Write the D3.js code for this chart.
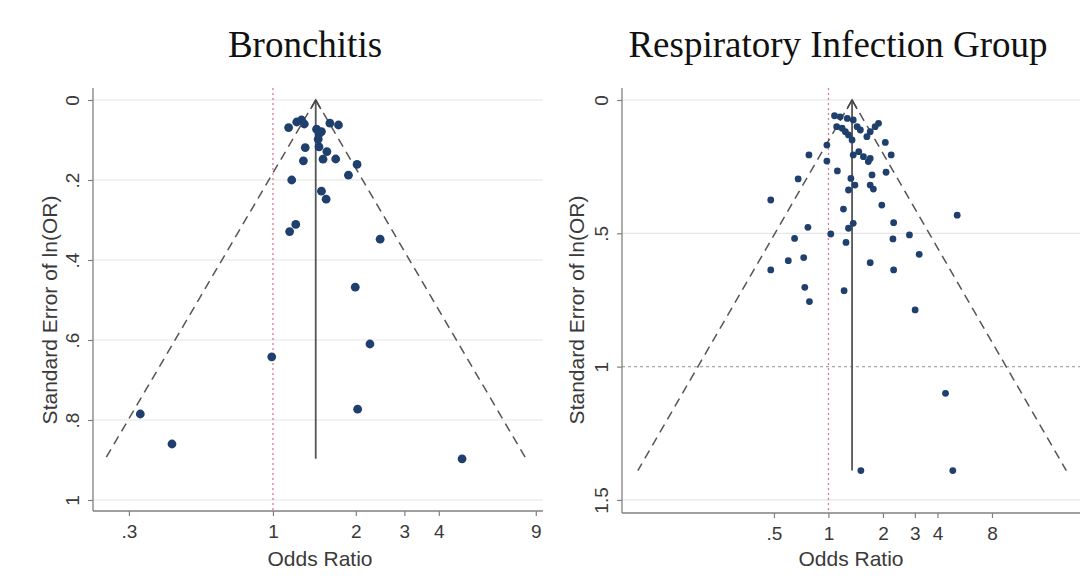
<!DOCTYPE html>
<html>
<head>
<meta charset="utf-8">
<script src="https://cdn.jsdelivr.net/npm/d3@7"></script>
<style>
  html, body { margin: 0; padding: 0; background: #fff; }
  svg { display: block; }
</style>
</head>
<body>
<svg id="chart" width="1088" height="587"></svg>
<script>
// ---------- DATA ----------
const titles = ["Bronchitis", "Respiratory Infection Group"];
const yAxisTitle = "Standard Error of ln(OR)";
const xAxisTitle = "Odds Ratio";

// Bronchitis: odds ratio and standard error of ln(OR)
const bronchOR = [1.14, 1.22, 1.27, 1.30, 1.44, 1.50, 1.46, 1.47, 1.47, 1.61, 1.73, 1.31, 1.29, 1.52, 1.57, 1.69,
  2.02, 1.88, 1.17, 1.50, 1.56, 1.21, 1.15, 2.45, 1.99, 2.25, 0.99, 2.03, 0.33, 0.43, 4.86];
const bronchSE = [0.069, 0.055, 0.050, 0.060, 0.073, 0.079, 0.098, 0.085, 0.117, 0.058, 0.0625, 0.119, 0.152, 0.148, 0.129, 0.1475,
  0.161, 0.188, 0.200, 0.228, 0.248, 0.311, 0.329, 0.348, 0.468, 0.610, 0.642, 0.773, 0.785, 0.860, 0.897];
const bronchPooled = 1.43;

// Respiratory infection group
const respOR = [1.08, 1.16, 1.11, 1.19, 1.27, 1.37, 1.24, 1.29, 1.35, 1.44, 1.50, 1.63, 1.70, 1.81, 1.89,
  0.98, 0.78, 0.98, 0.68, 0.48, 1.12, 1.33, 1.37, 1.47, 1.56, 1.66, 1.70, 2.06, 2.22, 2.08, 1.74, 1.77, 1.70,
  1.29, 1.40, 1.21, 1.97, 5.14, 0.77, 1.03, 1.29, 1.37, 1.25, 0.65, 2.29, 2.27, 2.80, 3.17, 0.73, 0.60, 0.48,
  1.70, 2.29, 0.74, 0.785, 1.22, 3.01, 4.43, 1.51, 4.86];
const respSE = [0.059, 0.063, 0.100, 0.106, 0.069, 0.075, 0.119, 0.131, 0.150, 0.100, 0.1125, 0.1375, 0.119, 0.100, 0.0875,
  0.169, 0.206, 0.229, 0.296, 0.375, 0.266, 0.294, 0.206, 0.194, 0.2125, 0.231, 0.219, 0.159, 0.206, 0.271, 0.281, 0.334, 0.319,
  0.3375, 0.319, 0.409, 0.394, 0.432, 0.4775, 0.5025, 0.481, 0.4625, 0.534, 0.519, 0.460, 0.521, 0.506, 0.579, 0.591, 0.6025, 0.6375,
  0.610, 0.6375, 0.7025, 0.756, 0.715, 0.7875, 1.10, 1.39, 1.39];
const respPooled = 1.35;

const bronchXTicks = [0.3, 1, 2, 3, 4, 9];
const bronchXLabels = [".3", "1", "2", "3", "4", "9"];
const bronchYTicks = [0, 0.2, 0.4, 0.6, 0.8, 1];
const bronchYLabels = ["0", ".2", ".4", ".6", ".8", "1"];
const respXTicks = [0.5, 1, 2, 3, 4, 8];
const respXLabels = [".5", "1", "2", "3", "4", "8"];
const respYTicks = [0, 0.5, 1, 1.5];
const respYLabels = ["0", ".5", "1", "1.5"];

// ---------- DRAW ----------
const svg = d3.select("#chart");
const sans = "'Liberation Sans', Arial, sans-serif";
const serif = "'Liberation Serif', 'Times New Roman', serif";

function panel(cfg) {
  const g = svg.append("g");
  const x = d3.scaleLog().domain(cfg.xDomain).range(cfg.xRange);
  const y = d3.scaleLinear().domain(cfg.yDomain).range(cfg.yRange);
  const [x0, x1] = cfg.xRange;
  const [yTop, yBot] = cfg.yRange;

  // gridlines
  g.append("g").selectAll("line").data(cfg.yTicks).join("line")
    .attr("x1", x0).attr("x2", x1)
    .attr("y1", d => y(d)).attr("y2", d => y(d))
    .attr("stroke", d => (cfg.dottedGrid != null && d === cfg.dottedGrid) ? "#a8a8a8" : "#e6e6e6")
    .attr("stroke-width", 1.2)
    .attr("stroke-dasharray", d => (cfg.dottedGrid != null && d === cfg.dottedGrid) ? "3,3" : null);

  // reference line at OR = 1
  g.append("line")
    .attr("x1", x(1)).attr("x2", x(1)).attr("y1", yTop).attr("y2", yBot)
    .attr("stroke", "#e07a8e").attr("stroke-width", 1.3).attr("stroke-dasharray", "2,3");

  // funnel lines
  const maxSE = d3.max(cfg.se);
  const lp = Math.log(cfg.pooled);
  const funnel = [
    [[cfg.pooled, 0], [Math.exp(lp - 1.96 * maxSE), maxSE]],
    [[cfg.pooled, 0], [Math.exp(lp + 1.96 * maxSE), maxSE]]
  ];
  g.append("g").selectAll("path").data(funnel).join("path")
    .attr("d", d3.line().x(d => x(d[0])).y(d => y(d[1])))
    .attr("fill", "none").attr("stroke", "#555").attr("stroke-width", 1.5)
    .attr("stroke-dasharray", "9,6");

  // pooled vertical line with arrow head
  const px = x(cfg.pooled);
  g.append("line")
    .attr("x1", px).attr("x2", px).attr("y1", y(0)).attr("y2", y(maxSE))
    .attr("stroke", "#555").attr("stroke-width", 1.8);
  g.append("path")
    .attr("d", `M${px - 5},${y(0) + 9}L${px},${y(0)}L${px + 5},${y(0) + 9}`)
    .attr("fill", "none").attr("stroke", "#444").attr("stroke-width", 1.5);

  // points
  g.append("g").selectAll("circle").data(cfg.or.map((o, i) => [o, cfg.se[i]])).join("circle")
    .attr("cx", d => x(d[0])).attr("cy", d => y(d[1])).attr("r", cfg.r)
    .attr("fill", "#1f3f6d");

  // axes
  const xa = g.append("g").attr("transform", `translate(0,${yBot})`)
    .call(d3.axisBottom(x).tickValues(cfg.xTicks).tickFormat((d, i) => cfg.xLabels[i]).tickSizeOuter(0).tickSize(5).tickPadding(9));
  xa.select(".domain").attr("d", `M${x0},0H${x1}`);
  const ya = g.append("g").attr("transform", `translate(${x0},0)`)
    .call(d3.axisLeft(y).tickValues(cfg.yTicks).tickFormat((d, i) => cfg.yLabels[i]).tickSizeOuter(0).tickSize(5));
  ya.select(".domain").attr("d", `M0,${yTop}V${yBot}`);
  [xa, ya].forEach(a => {
    a.select(".domain").attr("stroke", "#808080").attr("stroke-width", 1.3);
    a.selectAll(".tick line").attr("stroke", "#808080").attr("stroke-width", 1.2);
    a.selectAll("text").attr("fill", "#3a3a3a").style("font-family", sans).style("font-size", "19px");
  });
  ya.selectAll(".tick text")
    .attr("transform", "rotate(-90)")
    .attr("x", 0).attr("y", -14).attr("dy", 0)
    .attr("text-anchor", "middle");

  // axis titles
  g.append("text")
    .attr("x", cfg.xTitleX).attr("y", 566)
    .attr("text-anchor", "middle").attr("fill", "#3a3a3a")
    .style("font-family", sans).style("font-size", "21px")
    .text(xAxisTitle);
  g.append("text")
    .attr("transform", `translate(${cfg.yTitleX},${cfg.yTitleY}) rotate(-90)`)
    .attr("text-anchor", "middle").attr("fill", "#3a3a3a")
    .style("font-family", sans).style("font-size", "21px")
    .text(yAxisTitle);

  // panel title
  g.append("text")
    .attr("x", cfg.titleX).attr("y", 57)
    .attr("text-anchor", "middle").attr("fill", "#111")
    .style("font-family", serif).style("font-size", "37px")
    .text(cfg.title);
}

panel({
  title: titles[0], titleX: 305,
  or: bronchOR, se: bronchSE, pooled: bronchPooled,
  xDomain: [0.2222, 9.56], xRange: [93, 543],
  yDomain: [-0.03, 1.0275], yRange: [88, 511],
  xTicks: bronchXTicks, xLabels: bronchXLabels,
  yTicks: bronchYTicks, yLabels: bronchYLabels,
  xTitleX: 320, yTitleX: 57, yTitleY: 310, r: 4.4, dottedGrid: null
});

panel({
  title: titles[1], titleX: 838,
  or: respOR, se: respSE, pooled: respPooled,
  xDomain: [0.0724, 24.5], xRange: [622, 1080],
  yDomain: [-0.045, 1.549], yRange: [88, 513],
  xTicks: respXTicks, xLabels: respXLabels,
  yTicks: respYTicks, yLabels: respYLabels,
  xTitleX: 851, yTitleX: 584, yTitleY: 310, r: 3.4, dottedGrid: 1
});
</script>
</body>
</html>
